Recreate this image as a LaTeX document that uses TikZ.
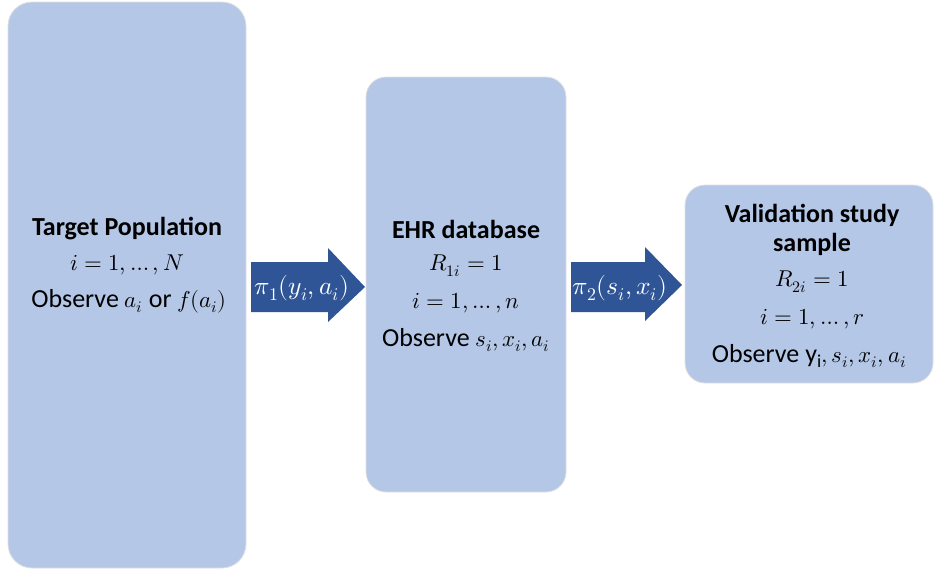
\documentclass[tikz,border=0pt]{standalone}
\usepackage{fontspec}
\usepackage{unicode-math}
\setmainfont{Carlito}
\setmathfont{Latin Modern Math}[Scale=0.88]
\definecolor{boxfill}{HTML}{B4C7E7}
\definecolor{arrowblue}{HTML}{2F5597}
\begin{document}
\begin{tikzpicture}[x=1pt,y=-1pt,
  stage/.style={fill=boxfill,draw=black!12,line width=0.8pt,rounded corners=24pt},
  txt/.style={font=\fontsize{26}{30}\selectfont,inner sep=0pt,anchor=center},
  ttl/.style={txt,font=\fontsize{26}{30}\selectfont\bfseries},
  flow/.style={fill=arrowblue,draw=none},
  flowlabel/.style={font=\fontsize{29}{34}\selectfont,text=white,inner sep=0pt}]
\useasboundingbox (0,0) rectangle (934,571);

% stage boxes
\draw[stage] (8,2) rectangle (246,568);
\draw[stage,rounded corners=20pt] (366,77) rectangle (566,492);
\draw[stage,rounded corners=20pt] (685,185) rectangle (933,383);

% block arrows between the stages
\fill[flow] (251,262) -- (328,262) -- (328,248) -- (365,287) -- (328,322) -- (328,312) -- (251,312) -- cycle;
\fill[flow] (571,262) -- (645,262) -- (645,247) -- (682,285) -- (645,321) -- (645,312) -- (571,312) -- cycle;
\node[flowlabel] (p1) at (302,288) {$\pi_1(y_i,a_i)$};
\node[flowlabel] (p2) at (620,288) {$\pi_2(s_i,x_i)$};

% target population
\node[ttl] (t1) at (127,229) {Target Population};
\node[txt] (t2) at (127,265) {$i=1,\dots,N$};
\node[txt] (t3) at (129,301) {Observe $a_i$ or $f(a_i)$};

% EHR database
\node[ttl] (e1) at (466,229) {EHR database};
\node[txt] (e2) at (466,266) {$R_{1i}=1$};
\node[txt] (e3) at (466,303) {$i=1,\dots,n$};
\node[txt] (e4) at (466,340) {Observe $s_i,x_i,a_i$};

% validation study sample
\node[ttl] (v1) at (812,215) {Validation study};
\node[ttl] (v2) at (812,244) {sample};
\node[txt] (v3) at (812,282) {$R_{2i}=1$};
\node[txt] (v4) at (812,319) {$i=1,\dots,r$};
\node[txt] (v5) at (809,356) {Observe $\mathrm{y}_\mathrm{i},s_i,x_i,a_i$};
\end{tikzpicture}
\end{document}
